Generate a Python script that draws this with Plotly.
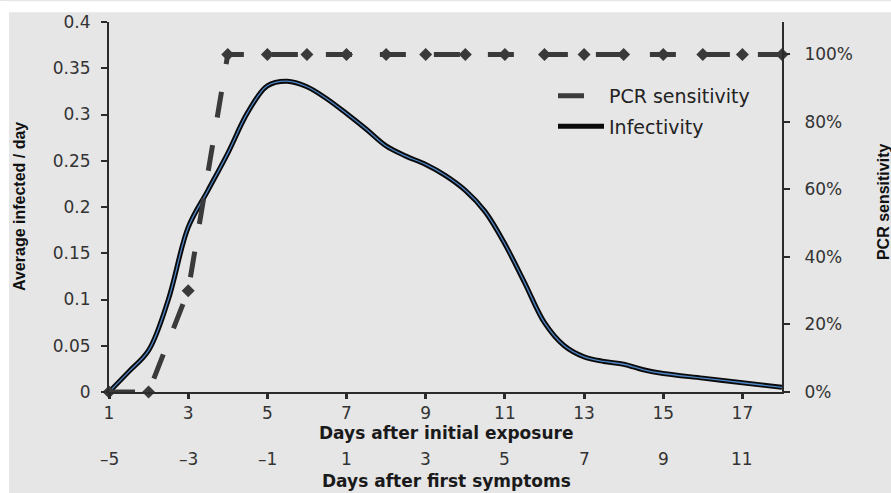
import plotly.graph_objects as go

# ---- data ----
inf_days = [1, 1.5, 2, 2.5, 3, 3.5, 4, 4.5, 5, 5.5, 6, 6.5, 7, 7.5, 8, 8.5, 9, 9.5,
            10, 10.5, 11, 11.5, 12, 12.5, 13, 13.5, 14, 14.5, 15, 16, 17, 18]
infectivity = [0, 0.022, 0.045, 0.10, 0.178, 0.218, 0.258, 0.302, 0.331, 0.336, 0.330,
               0.317, 0.301, 0.284, 0.266, 0.255, 0.246, 0.234, 0.218, 0.195, 0.16,
               0.118, 0.075, 0.05, 0.038, 0.033, 0.03, 0.024, 0.02, 0.015, 0.01, 0.005]

pcr_days = [1, 2, 3, 4, 5, 6, 7, 8, 9, 10, 11, 12, 13, 14, 15, 16, 17, 18]
pcr_sens = [0, 0, 0.30, 1, 1, 1, 1, 1, 1, 1, 1, 1, 1, 1, 1, 1, 1, 1]

x_ticks = [1, 3, 5, 7, 9, 11, 13, 15, 17]
symptom_labels = ["–5", "–3", "–1", "1", "3", "5", "7", "9", "11"]
y_ticks = [0, 0.05, 0.1, 0.15, 0.2, 0.25, 0.3, 0.35, 0.4]
y2_ticks = [0, 0.2, 0.4, 0.6, 0.8, 1.0]

W, H = 891, 493
L, R, T, B = 109, 109, 16, 101
PW, PH = W - L - R, H - T - B

BG = "#e6e6e6"
AX = "#2b2b2b"
DASHC = "#3a3a3a"
TICKF = dict(family="DejaVu Sans", size=17, color="#333333")

def px_x(px):
    return (px - L) / PW

def px_y(py):
    return (H - B - py) / PH

fig = go.Figure()

# PCR sensitivity (dashed line) on secondary axis
fig.add_trace(go.Scatter(
    x=pcr_days, y=pcr_sens, yaxis="y2", mode="lines", name="PCR sensitivity",
    line=dict(color=DASHC, width=5, dash="26px,28px"), legend="legend",
))
fig.add_trace(go.Scatter(
    x=pcr_days, y=pcr_sens, yaxis="y2", mode="markers", showlegend=False,
    marker=dict(symbol="diamond", size=10, color=DASHC), cliponaxis=False,
))

# Infectivity: black thick line with thin blue core
fig.add_trace(go.Scatter(
    x=inf_days, y=infectivity, mode="lines", name="Infectivity",
    line=dict(color="#0a0a0a", width=5, shape="spline", smoothing=1.0),
    legend="legend2",
))
fig.add_trace(go.Scatter(
    x=inf_days, y=infectivity, mode="lines", showlegend=False,
    line=dict(color="#4f86c6", width=1.3, shape="spline", smoothing=1.0),
))

annotations = []
# second row of x tick labels (days after first symptoms)
for d, lab in zip(x_ticks, symptom_labels):
    annotations.append(dict(x=d, y=px_y(460), xref="x", yref="paper", text=lab,
                            showarrow=False, font=TICKF, xanchor="center", yanchor="middle"))
annotations += [
    dict(x=px_x(446), y=px_y(434), xref="paper", yref="paper",
         text="<b>Days after initial exposure</b>", showarrow=False,
         font=dict(family="DejaVu Sans", size=17, color="#1a1a1a"),
         xanchor="center", yanchor="middle"),
    dict(x=px_x(446), y=px_y(482), xref="paper", yref="paper",
         text="<b>Days after first symptoms</b>", showarrow=False,
         font=dict(family="DejaVu Sans", size=17, color="#1a1a1a"),
         xanchor="center", yanchor="middle"),
    dict(x=px_x(19), y=px_y(204), xref="paper", yref="paper",
         text="<b>Average infected / day</b>", showarrow=False, textangle=-90,
         font=dict(family="Liberation Sans", size=16, color="#111111"),
         xanchor="center", yanchor="middle"),
    dict(x=px_x(883), y=px_y(198), xref="paper", yref="paper",
         text="<b>PCR sensitivity</b>", showarrow=False, textangle=-90,
         font=dict(family="Liberation Sans", size=16, color="#111111"),
         xanchor="center", yanchor="middle"),
]

shapes = [
    dict(type="rect", xref="paper", yref="paper", x0=px_x(-5), x1=px_x(9),
         y0=px_y(H + 5), y1=px_y(-5), fillcolor="white", line_width=0, layer="below"),
    dict(type="rect", xref="paper", yref="paper", x0=px_x(-5), x1=px_x(W + 5),
         y0=px_y(6), y1=px_y(-5), fillcolor="white", line_width=0, layer="below"),
]

LEGF = dict(family="DejaVu Sans", size=19, color="#222222")

fig.update_layout(
    width=W, height=H,
    margin=dict(l=L, r=R, t=T, b=B),
    paper_bgcolor=BG, plot_bgcolor=BG,
    xaxis=dict(range=[1, 18], tickvals=x_ticks, showgrid=False, zeroline=False,
               showline=True, linecolor=AX, linewidth=2,
               ticks="outside", ticklen=5, tickwidth=3, tickcolor=AX,
               tickfont=TICKF, ticklabelstandoff=0),
    yaxis=dict(range=[0, 0.4], tickvals=y_ticks, showgrid=False, zeroline=False,
               showline=True, linecolor=AX, linewidth=2,
               ticks="outside", ticklen=6, tickwidth=2, tickcolor=AX,
               tickfont=TICKF, ticklabelstandoff=7),
    yaxis2=dict(range=[0, 1.0962], tickvals=y2_ticks, tickformat=".0%",
                overlaying="y", side="right", anchor="x",
                showgrid=False, zeroline=False,
                showline=True, linecolor=AX, linewidth=2,
                ticks="outside", ticklen=6, tickwidth=2, tickcolor=AX,
                tickfont=TICKF, ticklabelstandoff=11),
    legend=dict(x=px_x(553), y=px_y(91), xanchor="left", yanchor="middle",
                itemwidth=46, bgcolor="rgba(0,0,0,0)", font=LEGF),
    legend2=dict(x=px_x(553), y=px_y(122), xanchor="left", yanchor="middle",
                 itemwidth=46, bgcolor="rgba(0,0,0,0)", font=LEGF),
    annotations=annotations,
    shapes=shapes,
    showlegend=True,
)

fig.write_html("out.html")
